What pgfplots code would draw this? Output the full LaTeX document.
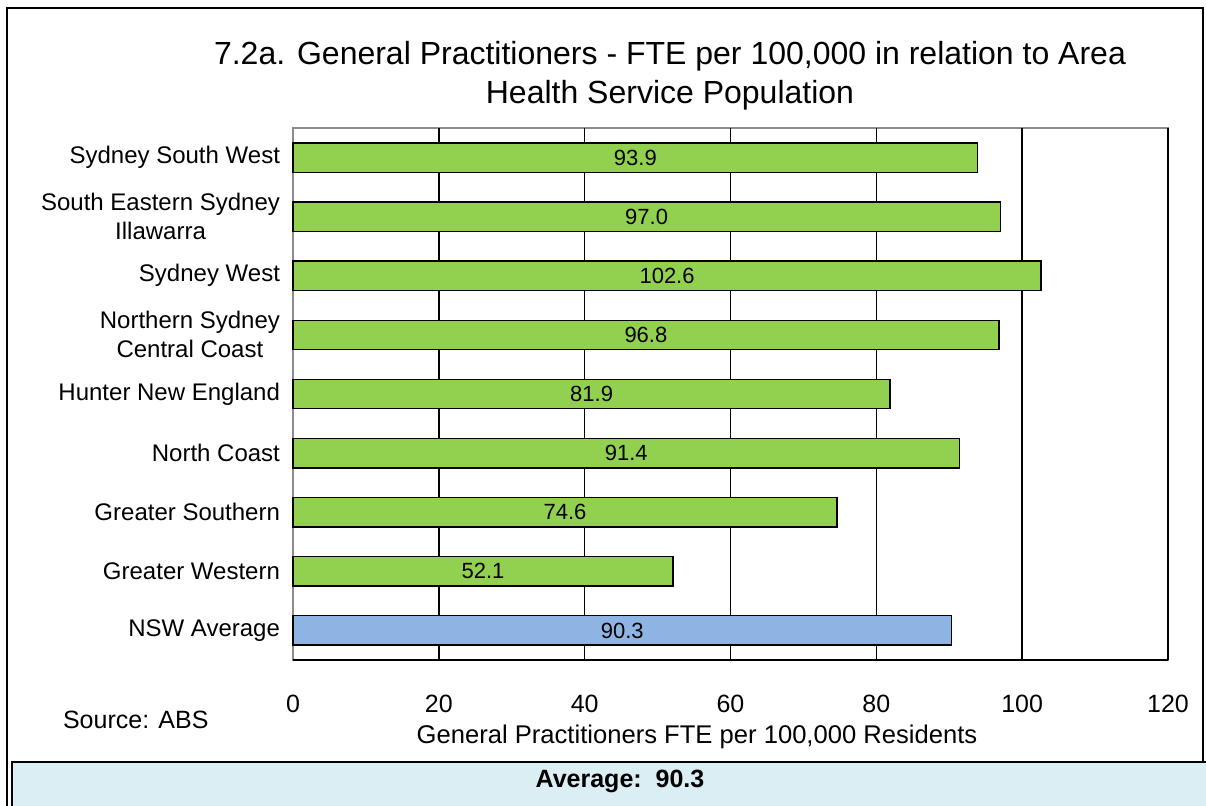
\documentclass[border=0pt]{standalone}
\usepackage{pgfplots}
\pgfplotsset{compat=1.18}
\usepackage{pgfplotstable}
\usepackage{fontspec}
\setmainfont{Liberation Sans}
\definecolor{bargreen}{HTML}{92D050}
\definecolor{barblue}{HTML}{8EB4E3}
\definecolor{boxblue}{HTML}{DAEEF3}
\pgfplotstableread{
pos val
0 93.9
1 97.0
2 102.6
3 96.8
4 81.9
5 91.4
6 74.6
7 52.1
}\areadata
\pgfplotstableread{
pos val
8 90.3
}\nswdata
\begin{document}
\begin{tikzpicture}
\path[use as bounding box] (0pt,0pt) rectangle (603pt,-402.5pt);
\draw[black, line width=0.9pt] (3.5pt,-404pt) -- (3.5pt,-4pt) -- (601.5pt,-4pt) -- (601.5pt,-404pt);
\begin{axis}[
  at={(146.5pt,-64pt)}, anchor=north west,
  width=437.5pt, height=266pt, scale only axis,
  xmin=0, xmax=120,
  ymin=-0.5, ymax=8.5, y dir=reverse,
  xtick={0,20,...,120},
  ytick={0,...,8},
  yticklabels={Sydney South West,{South Eastern Sydney\\Illawarra},Sydney West,{Northern Sydney\\Central Coast},Hunter New England,North Coast,Greater Southern,Greater Western,NSW Average},
  yticklabel style={align=center, font=\fontsize{12}{14.5}\selectfont, xshift=-3pt},
  xticklabel style={font=\fontsize{12.5}{15}\selectfont, /pgf/number format/assume math mode=true},
  xticklabel shift=14pt,
  major tick length=0pt,
  axis line style={draw=gray!90, line width=0.9pt},
  extra x ticks={20,40,...,120},
  extra x tick labels={},
  extra x tick style={grid=major, major grid style={black, line width=0.8pt}},
  xbar, bar width=14.7pt,
  bar shift=0pt,
  visualization depends on={\thisrow{val} \as \barval},
  nodes near coords,
  nodes near coords style={font=\fontsize{11}{13}\selectfont, anchor=center,
    shift={(axis direction cs:-\barval/2,0)},
    /pgf/number format/.cd, fixed, fixed zerofill, precision=1, assume math mode=true},
  clip=false,
]
\addplot[fill=bargreen, draw=black, line width=0.7pt] table[x=val, y=pos] {\areadata};
\addplot[fill=barblue, draw=black, line width=0.7pt] table[x=val, y=pos] {\nswdata};
\draw[black, line width=0.9pt] (rel axis cs:0,0) -- (rel axis cs:1,0);
\end{axis}
\node[font=\fontsize{16}{19.5}\selectfont, align=center] at (335pt,-38pt) {7.2a. General Practitioners - FTE per 100,000 in relation to Area\\Health Service Population};
\node[font=\fontsize{12.5}{15}\selectfont, anchor=west] at (28pt,-360pt) {Source: ABS};
\node[font=\fontsize{12.8}{15}\selectfont] at (348.5pt,-368.5pt) {General Practitioners FTE per 100,000 Residents};
\draw[black, line width=0.9pt, fill=boxblue] (6pt,-404pt) rectangle (603.5pt,-381pt);
\node[font=\bfseries\fontsize{12.5}{15}\selectfont] at (310pt,-390.5pt) {Average:\ \ 90.3};
\end{tikzpicture}
\end{document}
